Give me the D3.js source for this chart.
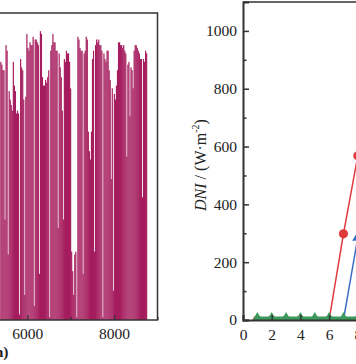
<!DOCTYPE html>
<html><head><meta charset="utf-8">
<script src="https://cdn.jsdelivr.net/npm/d3@7"></script>
<style>body{margin:0;background:#fff}svg{display:block}text{font-family:"Liberation Serif","Times New Roman",serif}</style>
</head><body><svg id="c" width="356" height="364"></svg>
<script>
// ---- left panel: daily peak DNI (W/m2), visible days of the year ----
const firstDay = 224;
const dailyDNI = [925,915,895,895,360,985,965,235,820,790,770,750,925,840,820,740,750,740,20,935,
905,895,790,90,800,1025,975,965,995,985,985,1015,50,1005,1005,995,985,165,1035,1025,
870,840,840,860,850,870,895,10,965,985,1025,995,995,965,965,330,955,905,870,750,
360,935,925,965,955,955,925,830,245,175,90,235,245,10,1015,1005,975,965,965,165,
955,965,1015,1005,675,605,575,675,935,965,245,985,1005,995,1005,985,985,965,10,955,
935,925,965,965,895,860,505,830,105,810,790,840,895,995,995,985,985,975,985,965,
955,585,915,925,730,905,895,830,965,985,985,975,965,955,935,935,440,935,925,965,955];
const hourMajorTicks = [6000, 8000];
const hourMinorTicks = [5000, 7000, 9000];
const leftXTitle = "Time (h)";

// ---- right panel: hourly DNI on typical days ----
const hours = [1, 2, 3, 4, 5, 6, 7, 8];
const dniRed = [0, 0, 0, 0, 0, 0, 298, 568];
const dniBlue = [0, 0, 0, 0, 0, 0, 0, 285];
const dniGreen = [0, 0, 0, 0, 0, 0, 0, 0];
const rightXTicks = [0, 2, 4, 6, 8];
const rightYTicks = [0, 200, 400, 600, 800, 1000];
const rightYMinor = [100, 300, 500, 700, 900];

const svg = d3.select("#c");
const axisCol = "#333";
const barCol = "#a51d5e";

// ===== Left panel =====
const xL = d3.scaleLinear().domain([0, 9000]).range([-233, 157.5]);
const yL = d3.scaleLinear().domain([0, 1100]).range([320, 13]);
const gL = svg.append("g");
gL.selectAll("rect.bar").data(dailyDNI).join("rect").attr("class", "bar")
  .attr("x", (d, i) => xL((firstDay + i) * 24))
  .attr("width", (d, i) => xL((firstDay + i + 1) * 24) - xL((firstDay + i) * 24) + 0.15)
  .attr("y", d => yL(d))
  .attr("height", d => yL(0) - yL(d))
  .attr("fill", barCol);
// frame
gL.append("rect").attr("x", -240).attr("y", yL(1100)).attr("width", xL(9000) + 240)
  .attr("height", yL(0) - yL(1100)).attr("fill", "none").attr("stroke", axisCol).attr("stroke-width", 1.5);
const axL = gL.append("g").attr("transform", `translate(0,${yL(0)})`)
  .call(d3.axisBottom(xL).tickValues(hourMajorTicks).tickSize(-5).tickPadding(8).tickFormat(d3.format("d")));
axL.select(".domain").remove();
axL.selectAll("line").attr("stroke", axisCol).attr("stroke-width", 1.2);
axL.selectAll("text").attr("font-size", 15.5).attr("fill", "#222").attr("font-family", "Liberation Serif");
const axLm = gL.append("g").attr("transform", `translate(0,${yL(0)})`)
  .call(d3.axisBottom(xL).tickValues(hourMinorTicks).tickSize(-3).tickFormat(""));
axLm.select(".domain").remove();
axLm.selectAll("line").attr("stroke", axisCol).attr("stroke-width", 1.2);
gL.append("text").attr("x", 8.5).attr("y", 357).attr("text-anchor", "end")
  .attr("font-size", 15.5).attr("font-weight", "bold").attr("fill", "#222").text(leftXTitle);

// ===== Right panel =====
const xR = d3.scaleLinear().domain([0, 24]).range([243, 243 + 24 * 14.35]);
const yR = d3.scaleLinear().domain([0, 1100]).range([320, 2]);
const gR = svg.append("g");
svg.append("defs").append("clipPath").attr("id", "clipR").append("rect")
  .attr("x", xR(0)).attr("y", yR(1100)).attr("width", xR(24) - xR(0)).attr("height", yR(0) - yR(1100));
const plot = gR.append("g").attr("clip-path", "url(#clipR)");
const line = d3.line().x((d, i) => xR(hours[i])).y(d => yR(d));

plot.append("path").datum(dniRed).attr("d", line).attr("fill", "none").attr("stroke", "#e0393e").attr("stroke-width", 1.5);
plot.selectAll("circle.r").data(dniRed).join("circle").attr("class", "r")
  .attr("cx", (d, i) => xR(hours[i])).attr("cy", d => yR(d)).attr("r", 4.6).attr("fill", "#e0393e");
plot.append("path").datum(dniBlue).attr("d", line).attr("fill", "none").attr("stroke", "#3b6fc6").attr("stroke-width", 1.5);
plot.selectAll("path.b").data(dniBlue).join("path").attr("class", "b")
  .attr("d", d3.symbol(d3.symbolTriangle, 55))
  .attr("transform", (d, i) => `translate(${xR(hours[i])},${yR(d)})`).attr("fill", "#3b6fc6");
plot.append("path").datum(dniGreen).attr("d", line).attr("fill", "none").attr("stroke", "#3d9a5d").attr("stroke-width", 7);
plot.selectAll("path.g").data(dniGreen).join("path").attr("class", "g")
  .attr("d", d3.symbol(d3.symbolTriangle, 45))
  .attr("transform", (d, i) => `translate(${xR(hours[i])},${yR(d) - 2})`).attr("fill", "#3d9a5d");

// frame lines
gR.append("line").attr("x1", xR(0)).attr("x2", xR(24)).attr("y1", yR(1100)).attr("y2", yR(1100))
  .attr("stroke", axisCol).attr("stroke-width", 1.5);
const ayR = gR.append("g").attr("transform", `translate(${xR(0)},0)`)
  .call(d3.axisLeft(yR).tickValues(rightYTicks).tickSize(-6).tickPadding(6).tickFormat(d3.format("d")));
ayR.select(".domain").attr("stroke", axisCol).attr("stroke-width", 2);
ayR.selectAll("line").attr("stroke", axisCol).attr("stroke-width", 1.5);
ayR.selectAll("text").attr("font-size", 15.5).attr("fill", "#222").attr("font-family", "Liberation Serif");
const ayRm = gR.append("g").attr("transform", `translate(${xR(0)},0)`)
  .call(d3.axisLeft(yR).tickValues(rightYMinor).tickSize(-3.5).tickFormat(""));
ayRm.select(".domain").remove();
ayRm.selectAll("line").attr("stroke", axisCol).attr("stroke-width", 1.5);
const axR = gR.append("g").attr("transform", `translate(0,${yR(0)})`)
  .call(d3.axisBottom(xR).tickValues(rightXTicks).tickSize(-5).tickPadding(9).tickFormat(d3.format("d")));
axR.select(".domain").attr("stroke", axisCol).attr("stroke-width", 2);
axR.selectAll("line").attr("stroke", axisCol).attr("stroke-width", 1.5);
axR.selectAll("text").attr("font-size", 15.5).attr("fill", "#222").attr("font-family", "Liberation Serif");

const yt = gR.append("text").attr("transform", `translate(206,165) rotate(-90)`)
  .attr("text-anchor", "middle").attr("font-size", 16).attr("fill", "#222");
yt.append("tspan").attr("font-style", "italic").text("DNI");
yt.append("tspan").text(" / (W·m");
yt.append("tspan").attr("font-size", 10).attr("dy", -7).text("-2");
yt.append("tspan").attr("dy", 7).text(")");
</script></body></html>
